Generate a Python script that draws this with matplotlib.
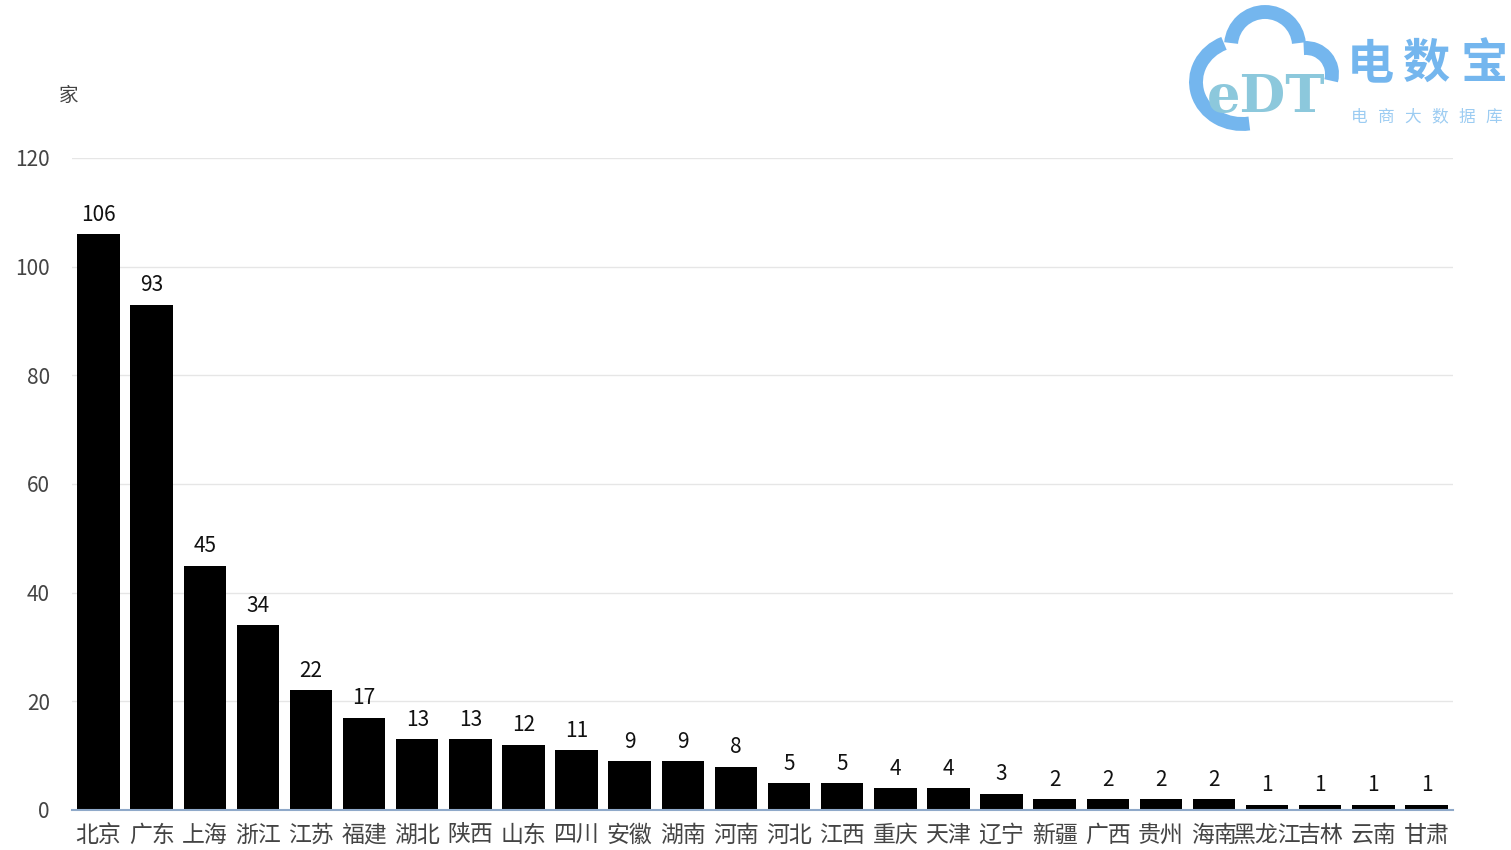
import matplotlib
matplotlib.use("Agg")
import matplotlib.pyplot as plt
from matplotlib.patches import Arc

plt.rcParams["font.family"] = ["Noto Sans CJK SC", "DejaVu Sans"]
plt.rcParams["axes.unicode_minus"] = False

provinces = ["北京", "广东", "上海", "浙江", "江苏", "福建", "湖北", "陕西", "山东", "四川",
             "安徽", "湖南", "河南", "河北", "江西", "重庆", "天津", "辽宁", "新疆", "广西",
             "贵州", "海南", "黑龙江", "吉林", "云南", "甘肃"]
counts = [106, 93, 45, 34, 22, 17, 13, 13, 12, 11, 9, 9, 8, 5, 5, 4, 4, 3, 2, 2, 2, 2, 1, 1, 1, 1]
yticks = [0, 20, 40, 60, 80, 100, 120]

W, H = 1511, 850
fig = plt.figure(figsize=(W / 100, H / 100), dpi=100)
ax = fig.add_axes([72 / W, 1 - 810 / H, (1453 - 72) / W, (810 - 158) / H])

x = range(len(provinces))
ax.bar(x, counts, width=0.8, color="#000000", zorder=3)
for xi, v in zip(x, counts):
    ax.annotate(str(v), (xi, v), xytext=(0, 6), textcoords="offset points",
                ha="center", va="bottom", fontsize=15, color="#111111")

ax.set_xlim(-0.5, len(provinces) - 0.5)
ax.set_ylim(0, 120)
ax.set_yticks(yticks)
ax.set_xticks(list(x))
ax.set_xticklabels(provinces, fontsize=16.5, color="#444444")
ax.tick_params(axis="y", length=0, pad=16, labelsize=15, labelcolor="#444444")
ax.tick_params(axis="x", length=0, pad=10)
ax.grid(axis="y", color="#e6e6e6", lw=1, zorder=0)
for s in ["top", "right", "left"]:
    ax.spines[s].set_visible(False)
ax.spines["bottom"].set_color("#8fa9c9")
ax.spines["bottom"].set_linewidth(1.5)
ax.spines["bottom"].set_zorder(4)

fig.text(69 / W, 1 - 95 / H, "家", ha="center", va="center", fontsize=14, color="#444444")

# watermark logo (overlay in pixel coords, y down)
ov = fig.add_axes([0, 0, 1, 1], zorder=-1)
ov.set_xlim(0, W); ov.set_ylim(H, 0); ov.axis("off")
logo = "#74b6ee"
ov.add_patch(Arc((1242, 82), 92, 84, theta1=80, theta2=245, color=logo, lw=10))
ov.add_patch(Arc((1265, 46), 68, 68, theta1=185, theta2=355, color=logo, lw=10))
ov.add_patch(Arc((1306, 74), 52, 52, theta1=-95, theta2=15, color=logo, lw=10))
ov.text(1266, 97, "eDT", ha="center", va="center", fontsize=38, color="#8cc8dc",
        fontweight="bold", family="DejaVu Serif")
for i, ch in enumerate("电数宝"):
    ov.text(1370 + 57 * i, 64, ch, ha="center", va="center", fontsize=34,
            color=logo, fontweight="bold")
for i, ch in enumerate("电商大数据库"):
    ov.text(1359 + 27 * i, 117, ch, ha="center", va="center", fontsize=12, color="#9cccf2")

fig.savefig("out.png", dpi=100, facecolor="white")
